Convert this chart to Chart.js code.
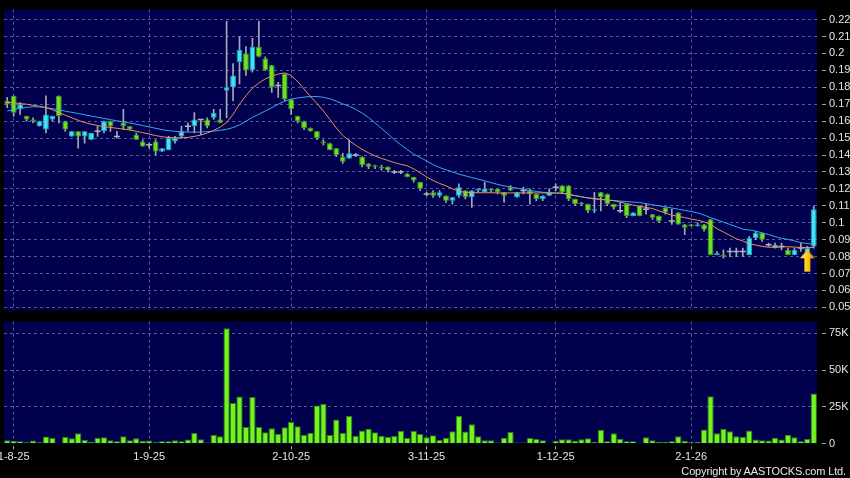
<!DOCTYPE html>
<html>
<head>
<meta charset="utf-8">
<script src="https://cdn.jsdelivr.net/npm/chart.js@4.4.1/dist/chart.umd.min.js"></script>
<style>
  body { margin: 0; background: #000; width: 850px; height: 478px; overflow: hidden; position: relative; font-family: "Liberation Sans", Arial, sans-serif; }
  #price { position: absolute; left: 0; top: 0; }
  #vol { position: absolute; left: 0; top: 312px; }
  #copy { position: absolute; right: 4px; top: 465px; color: #e8e8e8; font-size: 11px; letter-spacing: -0.15px; }
</style>
</head>
<body>
<canvas id="price" width="850" height="320"></canvas>
<canvas id="vol" width="850" height="154"></canvas>
<div id="copy">Copyright by AASTOCKS.com Ltd.</div>
<script>
// date ticks (bar index -> label)
var tickIdx = [1, 22, 44, 65, 85, 106];
var tickText = ['1-8-25', '1-9-25', '2-10-25', '3-11-25', '1-12-25', '2-1-26'];
var priceTicks = [0.05, 0.06, 0.07, 0.08, 0.09, 0.10, 0.11, 0.12, 0.13, 0.14, 0.15, 0.16, 0.17, 0.18, 0.19, 0.20, 0.21, 0.22];
var volTicks = [0, 25, 50, 75];

// daily OHLC
var opens = [.172,.175,.167,.163,.161,.157,.155,.161,.175,.160,
  .151,.154,.151,.149,.154,.154,.160,.151,.159,.157,
  .152,.148,.146,.148,.142,.143,.148,.151,.157,.157,
  .161,.161,.162,.161,.178,.180,.195,.200,.190,.204,
  .197,.193,.181,.188,.173,.163,.160,.156,.154,.148,
  .147,.144,.139,.138,.140,.139,.135,.134,.133,.133,
  .130,.130,.129,.127,.124,.117,.118,.116,.116,.113,
  .116,.119,.115,.119,.118,.120,.120,.118,.121,.115,
  .119,.119,.117,.114,.116,.121,.122,.122,.114,.112,
  .111,.107,.118,.117,.111,.107,.111,.104,.110,.108,
  .105,.104,.109,.101,.106,.099,.099,.098,.099,.102,
  .081,.081,.083,.083,.083,.081,.091,.094,.087,.085,
  .086,.084,.081,.085,.082,.086];
var highs = [.174,.175,.171,.163,.162,.160,.175,.163,.175,.160,
  .154,.154,.154,.153,.157,.160,.160,.154,.167,.157,
  .153,.149,.147,.149,.144,.151,.151,.157,.159,.165,
  .161,.162,.167,.167,.219,.194,.210,.204,.209,.219,
  .198,.193,.183,.188,.173,.163,.160,.156,.154,.149,
  .147,.144,.141,.149,.141,.139,.135,.134,.134,.133,
  .131,.131,.129,.127,.124,.118,.119,.119,.116,.115,
  .123,.119,.119,.120,.124,.120,.120,.118,.122,.118,
  .121,.120,.117,.116,.120,.123,.122,.122,.114,.112,
  .111,.118,.118,.117,.111,.112,.111,.106,.110,.111,
  .105,.104,.109,.108,.106,.099,.099,.100,.099,.102,
  .083,.084,.085,.085,.085,.092,.095,.094,.088,.088,
  .088,.085,.085,.088,.086,.110];
var lows = [.168,.163,.164,.160,.159,.157,.153,.160,.159,.154,
  .151,.144,.147,.149,.151,.153,.154,.150,.155,.155,
  .149,.145,.144,.140,.142,.143,.147,.150,.154,.153,
  .152,.156,.161,.159,.162,.172,.182,.187,.189,.198,
  .190,.177,.174,.172,.164,.159,.155,.154,.149,.146,
  .143,.139,.135,.138,.139,.133,.132,.132,.131,.130,
  .129,.129,.127,.124,.119,.116,.115,.115,.112,.111,
  .115,.114,.109,.118,.118,.118,.117,.112,.119,.115,
  .117,.111,.113,.113,.116,.119,.117,.113,.110,.110,
  .106,.106,.107,.110,.108,.106,.103,.104,.104,.105,
  .102,.100,.105,.099,.099,.093,.098,.098,.095,.081,
  .081,.079,.080,.080,.080,.081,.090,.089,.086,.085,
  .084,.081,.081,.083,.082,.085];
var closes = [.170,.165,.170,.161,.160,.160,.164,.163,.163,.155,
  .154,.151,.154,.153,.154,.160,.157,.151,.157,.155,
  .149,.145,.146,.142,.144,.150,.150,.154,.157,.161,
  .161,.157,.165,.159,.180,.187,.202,.190,.204,.198,
  .190,.180,.181,.173,.167,.160,.156,.154,.150,.147,
  .143,.140,.136,.141,.140,.134,.133,.133,.132,.131,
  .130,.130,.127,.125,.120,.117,.116,.118,.113,.115,
  .121,.115,.119,.120,.120,.119,.118,.116,.119,.118,
  .119,.117,.114,.116,.118,.121,.118,.114,.111,.111,
  .107,.108,.115,.111,.109,.107,.104,.106,.104,.108,
  .103,.101,.106,.101,.099,.097,.098,.099,.096,.081,
  .082,.080,.083,.083,.083,.091,.094,.090,.087,.087,
  .086,.081,.084,.085,.085,.108];

// volume, thousands of shares
var volumes = [2.2,1.8,1.6,0.9,2,0.9,4.7,3.8,0.4,4.4,
  3.6,6.9,2.4,1.1,4,4.2,2.2,1.6,4.9,2.2,
  3.6,1.8,2,0.9,1.6,1.6,2.2,1.6,2.7,7.1,
  2.9,0.7,6,4.9,78.4,27.6,32,11.3,31.6,11.3,
  7.6,10.4,6.7,11.1,14.7,11.8,6,7.3,25.8,27.1,
  5.8,16.4,7.3,18.7,5.3,8.9,10,7.6,5.3,4.4,
  5.1,8.7,3.8,8.7,6.4,4.2,5.6,2.4,4,8.4,
  18.7,8.2,13.1,4.9,2.2,2.2,0.7,4,7.8,0.7,
  0.7,3.8,3.1,2.2,0.2,1.8,2.9,2.9,1.8,2.9,
  3.6,1.1,9.3,1.6,6.9,3.3,1.6,1.6,0.2,4.2,
  2.2,1.1,1.1,1.6,4.9,1.8,0.9,1.1,9.6,32.2,
  6.9,10,8.4,4.9,4.4,8.9,2.7,2.2,2,4,
  2.7,6,4.2,1.6,3.3,34];

// moving averages as drawn (orange short, blue long)
var maShort = [.1712,.1708,.1704,.1700,.1694,.1688,.1680,.1668,.1650,.1635,
  .1620,.1605,.1592,.1582,.1574,.1568,.1563,.1558,.1553,.1547,
  .1540,.1532,.1524,.1515,.1508,.1503,.1502,.1502,.1504,.1510,
  .1518,.1530,.1545,.1565,.1592,.1640,.1700,.1750,.1795,.1825,
  .1850,.1866,.1878,.1885,.1870,.1835,.1790,.1745,.1705,.1660,
  .1610,.1560,.1515,.1485,.1458,.1433,.1413,.1395,.1380,.1368,
  .1355,.1345,.1336,.1318,.1295,.1270,.1250,.1232,.1218,.1200,
  .1185,.1180,.1178,.1177,.1177,.1177,.1176,.1176,.1176,.1176,
  .1176,.1176,.1176,.1176,.1175,.1175,.1175,.1168,.1160,.1153,
  .1147,.1143,.1139,.1134,.1130,.1122,.1113,.1104,.1097,.1090,
  .1084,.1070,.1058,.1045,.1037,.1030,.1022,.1015,.1005,.0990,
  .0965,.0945,.0925,.0905,.0892,.0875,.0868,.0860,.0855,.0855,
  .0857,.0858,.0856,.0854,.0854,.0854];
var maLong = [.1660,.1668,.1676,.1682,.1685,.1684,.1680,.1674,.1666,.1659,
  .1652,.1645,.1638,.1630,.1623,.1616,.1609,.1602,.1596,.1589,
  .1582,.1574,.1566,.1558,.1550,.1544,.1540,.1537,.1535,.1535,
  .1536,.1538,.1541,.1546,.1552,.1562,.1578,.1600,.1622,.1641,
  .1660,.1680,.1700,.1718,.1730,.1737,.1742,.1745,.1745,.1741,
  .1732,.1718,.1702,.1688,.1670,.1648,.1622,.1590,.1557,.1525,
  .1490,.1460,.1432,.1405,.1385,.1365,.1343,.1326,.1313,.1300,
  .1287,.1277,.1267,.1257,.1247,.1237,.1226,.1218,.1211,.1204,
  .1197,.1191,.1185,.1180,.1178,.1176,.1174,.1167,.1160,.1153,
  .1146,.1140,.1137,.1134,.1131,.1128,.1125,.1122,.1119,.1113,
  .1106,.1100,.1094,.1087,.1080,.1073,.1066,.1058,.1045,.1030,
  .1017,.1003,.0990,.0976,.0962,.0957,.0950,.0940,.0930,.0918,
  .0908,.0901,.0893,.0882,.0877,.0873];

// the yellow marker under the latest bars
var arrowIdx = 124;
var arrowPrice = 0.0775;

var navy = '#00004f';
var gridColor = '#5a5a90';
var clear = 'rgba(0,0,0,0)';
var textColor = '#e4e4e4';
var font = { family: '"Liberation Sans", Arial, sans-serif', size: 11 };
var upFill = '#3ee4f4', upEdge = '#1fa6b8';
var downFill = '#6de222', downEdge = '#3c9a10';

var labels = closes.map(function (c, i) { return i; });

var plotBg = {
    id: 'plotBg',
    beforeDraw: function (chart) {
        var a = chart.chartArea, ctx = chart.ctx;
        ctx.save();
        ctx.fillStyle = navy;
        ctx.fillRect(a.left, a.top, a.right - a.left, a.bottom - a.top);
        ctx.restore();
    }
};

function makeArrow() {
    var c = document.createElement('canvas');
    c.width = 16; c.height = 23;
    var g = c.getContext('2d');
    var grad = g.createLinearGradient(0, 0, 16, 0);
    grad.addColorStop(0, '#fff07a');
    grad.addColorStop(0.5, '#ffcc10');
    grad.addColorStop(1, '#d88400');
    g.fillStyle = grad;
    g.beginPath();
    g.moveTo(8, 0.5); g.lineTo(15.5, 9); g.lineTo(11, 9); g.lineTo(11, 22.5);
    g.lineTo(5, 22.5); g.lineTo(5, 9); g.lineTo(0.5, 9);
    g.closePath();
    g.fill();
    return c;
}

function setTicks(list) {
    return function (s) { s.ticks = list.map(function (v) { return { value: v }; }); };
}

Chart.defaults.animation = false;
Chart.defaults.events = [];

var isUp = closes.map(function (c, i) { return c > opens[i]; });

new Chart(document.getElementById('price'), {
    type: 'bar',
    data: {
        labels: labels,
        datasets: [
            {
                data: lows.map(function (l, i) { return [l, highs[i]]; }),
                backgroundColor: '#a8a8b4',
                barThickness: 1,
                grouped: false,
                order: 5
            },
            {
                data: opens.map(function (o, i) { return o === closes[i] ? null : [o, closes[i]]; }),
                backgroundColor: isUp.map(function (u) { return u ? upFill : downFill; }),
                borderColor: isUp.map(function (u) { return u ? upEdge : downEdge; }),
                borderWidth: 1,
                borderSkipped: false,
                barPercentage: 0.9,
                categoryPercentage: 1,
                grouped: false,
                order: 4
            },
            {
                type: 'line',
                data: opens.map(function (o, i) { return o === closes[i] ? o : null; }),
                showLine: false,
                pointStyle: 'line',
                pointRadius: 3,
                pointBorderColor: '#b4b4bc',
                pointBorderWidth: 1.5,
                order: 3
            },
            {
                type: 'line',
                data: maLong,
                borderColor: '#3aa8ee',
                borderWidth: 1,
                pointRadius: 0,
                order: 2
            },
            {
                type: 'line',
                data: maShort,
                borderColor: '#e8925a',
                borderWidth: 1,
                pointRadius: 0,
                order: 1
            },
            {
                type: 'line',
                data: closes.map(function (c, i) { return i === arrowIdx ? arrowPrice : null; }),
                showLine: false,
                pointStyle: makeArrow(),
                pointRadius: 8,
                order: 0
            }
        ]
    },
    options: {
        responsive: false,
        layout: { autoPadding: false, padding: { left: 4, top: 7, right: 0, bottom: 4 } },
        plugins: { legend: { display: false }, tooltip: { enabled: false } },
        scales: {
            x: {
                type: 'category',
                offset: true,
                afterBuildTicks: setTicks(tickIdx),
                afterFit: function (s) { s.height = 0; },
                grid: { color: gridColor, offset: false, drawTicks: false },
                border: { display: false, dash: [3, 3] },
                ticks: { display: false, autoSkip: false }
            },
            y: {
                position: 'right',
                min: 0.0482,
                max: 0.2259,
                afterBuildTicks: setTicks(priceTicks),
                afterFit: function (s) { s.width = 33; },
                grid: { color: gridColor, tickColor: '#a0a0a0', tickLength: 9, tickBorderDash: [0, 5, 4, 30], tickWidth: 1 },
                border: { display: false, dash: [3, 3] },
                ticks: {
                    color: textColor, font: font, padding: 3,
                    callback: function (v) { return String(+v.toFixed(2)); }
                }
            }
        }
    },
    plugins: [plotBg]
});

// a blank tick at bar 0 keeps the first date label from pushing the plot right
var volTickIdx = [0].concat(tickIdx);

new Chart(document.getElementById('vol'), {
    type: 'bar',
    data: {
        labels: labels,
        datasets: [{
            data: volumes,
            backgroundColor: '#72f51e',
            borderColor: '#2f7f06',
            borderWidth: 1,
            borderSkipped: 'bottom',
            barPercentage: 0.98,
            categoryPercentage: 1
        }]
    },
    options: {
        responsive: false,
        layout: { autoPadding: false, padding: { left: 4, top: 7, right: 0, bottom: 0 } },
        plugins: { legend: { display: false }, tooltip: { enabled: false } },
        scales: {
            x: {
                type: 'category',
                offset: true,
                afterBuildTicks: setTicks(volTickIdx),
                afterFit: function (s) { s.height = 22.5; },
                grid: {
                    color: function (c) { return c.index === 0 ? clear : gridColor; },
                    tickColor: function (c) { return c.index === 0 ? clear : '#a0a0a0'; },
                    offset: false, tickLength: 6, tickBorderDash: [0, 2, 4, 30]
                },
                border: { display: false, dash: [3, 3] },
                ticks: {
                    color: textColor, font: font, padding: 1, autoSkip: false, maxRotation: 0,
                    callback: function (v, i) { return i === 0 ? '' : tickText[i - 1]; }
                }
            },
            y: {
                position: 'right',
                min: 0,
                max: 83,
                afterBuildTicks: setTicks(volTicks),
                afterFit: function (s) { s.width = 33; },
                grid: {
                    color: function (c) { return c.tick && c.tick.value === 0 ? clear : gridColor; },
                    tickColor: '#a0a0a0', tickLength: 9, tickBorderDash: [0, 5, 4, 30], tickWidth: 1
                },
                border: { display: false, dash: [3, 3] },
                ticks: {
                    color: textColor, font: font, padding: 3,
                    callback: function (v) { return v === 0 ? '0' : v + 'K'; }
                }
            }
        }
    },
    plugins: [plotBg]
});
</script>
</body>
</html>
